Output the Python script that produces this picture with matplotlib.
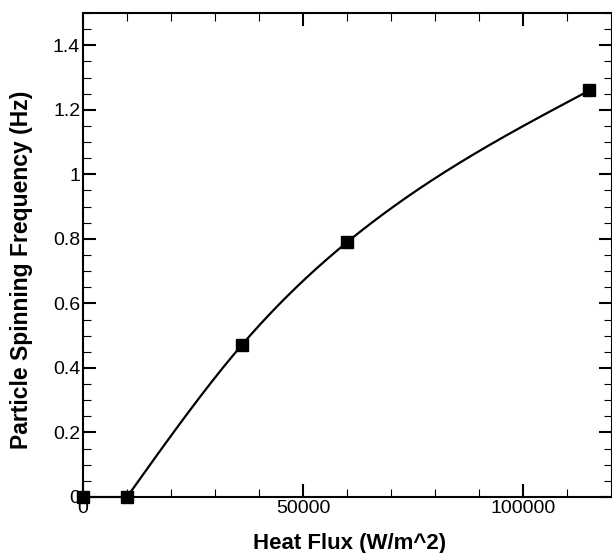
import numpy as np
import matplotlib
matplotlib.use("Agg")
import matplotlib.pyplot as plt
from matplotlib.ticker import MultipleLocator, FuncFormatter

# datos
heat_flux = [0, 10000, 36000, 60000, 115000]
frequency = [0.0, 0.0, 0.47, 0.79, 1.26]


def natural_spline(x, y, xs):
    # spline cubica natural simple (sin scipy)
    x = np.asarray(x, float)
    y = np.asarray(y, float)
    n = len(x)
    h = np.diff(x)
    A = np.zeros((n, n))
    b = np.zeros(n)
    A[0, 0] = 1
    A[-1, -1] = 1
    for i in range(1, n - 1):
        A[i, i - 1] = h[i - 1]
        A[i, i] = 2 * (h[i - 1] + h[i])
        A[i, i + 1] = h[i]
        b[i] = 3 * ((y[i + 1] - y[i]) / h[i] - (y[i] - y[i - 1]) / h[i - 1])
    c = np.linalg.solve(A, b)
    out = np.empty_like(xs)
    for k, xv in enumerate(xs):
        i = min(np.searchsorted(x, xv, side="right") - 1, n - 2)
        i = max(i, 0)
        dx = xv - x[i]
        bi = (y[i + 1] - y[i]) / h[i] - h[i] * (2 * c[i] + c[i + 1]) / 3
        di = (c[i + 1] - c[i]) / (3 * h[i])
        out[k] = y[i] + bi * dx + c[i] * dx ** 2 + di * dx ** 3
    return out


plt.rcParams["font.family"] = ["Liberation Sans", "DejaVu Sans"]

fig = plt.figure(figsize=(6.12, 5.53), dpi=100)
ax = fig.add_axes([0.1356, 0.1013, 0.8636, 0.8752])

# tramo plano y luego curva suave
xs = np.linspace(heat_flux[1], heat_flux[-1], 300)
ys = natural_spline(heat_flux[1:], frequency[1:], xs)
ax.plot(heat_flux[:2], frequency[:2], color="black", lw=1.5, clip_on=False)
ax.plot(xs, ys, color="black", lw=1.6)
ax.plot(heat_flux, frequency, "s", color="black", markersize=9.3, clip_on=False, zorder=5)

ax.set_xlim(0, 120000)
ax.set_ylim(0, 1.5)
ax.xaxis.set_major_locator(MultipleLocator(50000))
ax.xaxis.set_minor_locator(MultipleLocator(10000))
ax.yaxis.set_major_locator(MultipleLocator(0.2))
ax.yaxis.set_minor_locator(MultipleLocator(0.05))
ax.yaxis.set_major_formatter(FuncFormatter(lambda v, p: f"{v:g}"))
ax.xaxis.set_major_formatter(FuncFormatter(lambda v, p: f"{v:.0f}"))

ax.tick_params(which="both", direction="in", top=True, right=True, labelsize=14, color="black")
ax.tick_params(which="major", length=9.5, width=1.5, pad=2)
ax.tick_params(which="minor", length=6, width=0.8)
for s in ax.spines.values():
    s.set_linewidth(1.5)

# etiquetas de ejes colocadas a mano
fig.text(350 / 612, 1 - 543 / 553, "Heat Flux (W/m^2)", fontsize=16, fontweight="bold",
         ha="center", va="center")
fig.text(22 / 612, 1 - 270 / 553, "Particle Spinning Frequency (Hz)", fontsize=16.5,
         fontweight="bold", rotation=90, ha="center", va="center")

fig.savefig("out.png", dpi=100)
